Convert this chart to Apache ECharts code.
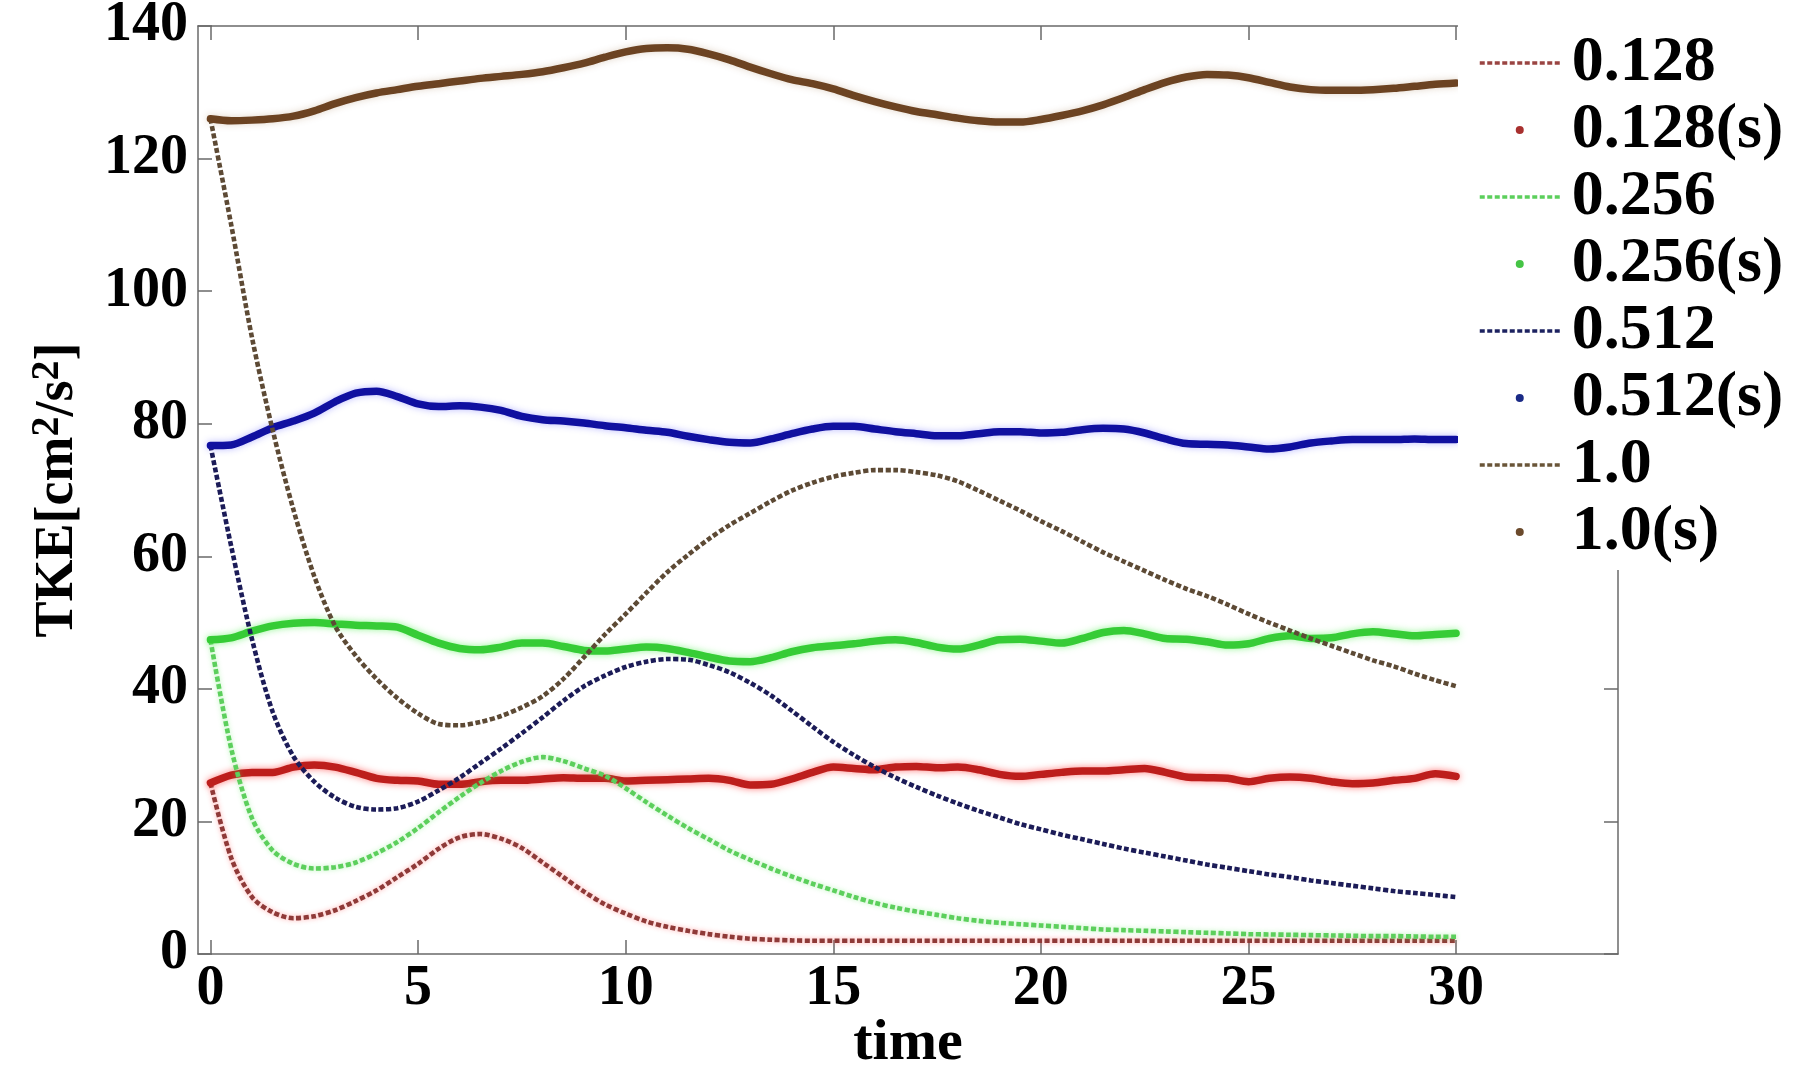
<!DOCTYPE html>
<html>
<head>
<meta charset="utf-8">
<title>TKE vs time</title>
<script src="https://cdn.jsdelivr.net/npm/echarts@6/dist/echarts.min.js"></script>
<style>
  html, body { margin: 0; padding: 0; background: #fff; overflow: hidden; }
  #chart { width: 1798px; height: 1066px; }
</style>
</head>
<body>
<div id="chart"></div>
<script>
// Sampling times shared by every curve
const time = [0,0.5,1,1.5,2,2.5,3,3.5,4,4.5,5,5.5,6,6.5,7,7.5,8,8.5,9,9.5,
  10,10.5,11,11.5,12,12.5,13,13.5,14,14.5,15,15.5,16,16.5,17,17.5,18,18.5,19,19.5,
  20,20.5,21,21.5,22,22.5,23,23.5,24,24.5,25,25.5,26,26.5,27,27.5,28,28.5,29,29.5,30];

// Decaying runs (dotted)
const tke0128 = [25.8,14.5,8.6,6.3,5.4,5.7,6.6,8.0,9.6,11.6,
  13.6,15.9,17.6,18.1,17.4,16.0,13.8,11.6,9.4,7.5,
  6.1,4.9,4.1,3.5,3.0,2.6,2.3,2.15,2.05,2.0,
  2.0,2.0,2.0,2.0,2.0,2.0,2.0,2.0,2.0,2.0,
  2.0,2.0,2.0,2.0,2.0,2.0,2.0,2.0,2.0,2.0,
  2.0,2.0,2.0,2.0,2.0,2.0,2.0,2.0,2.0,2.0,2.0];
const tke0256 = [47.4,31.0,20.5,15.6,13.6,12.9,13.1,13.8,15.2,16.9,
  19.0,21.4,23.7,25.8,27.6,29.0,29.7,29.1,28.0,26.9,
  25.0,22.9,20.9,19.0,17.3,15.6,14.2,12.9,11.7,10.6,
  9.6,8.6,7.7,7.0,6.4,5.9,5.4,5.0,4.7,4.5,
  4.3,4.1,3.9,3.7,3.6,3.5,3.4,3.3,3.2,3.1,
  3.0,2.95,2.9,2.85,2.8,2.75,2.7,2.7,2.65,2.6,2.6];
const tke0512 = [76.7,61.5,47.5,36.5,29.8,26.0,23.6,22.2,21.8,22.0,
  23.0,24.7,26.6,28.8,31.0,33.3,35.7,38.2,40.4,42.0,
  43.3,44.1,44.5,44.4,43.6,42.5,40.9,39.0,36.7,34.3,
  32.0,30.0,28.2,26.6,25.2,23.9,22.7,21.6,20.6,19.6,
  18.8,18.0,17.3,16.6,15.9,15.3,14.7,14.1,13.5,13.0,
  12.5,12.0,11.6,11.1,10.7,10.3,9.9,9.5,9.2,8.9,8.6];
const tke10 = [126.0,110.0,93.0,79.0,67.0,57.0,49.5,45.0,41.5,38.6,
  36.3,34.7,34.5,35.0,35.9,37.2,38.9,41.5,44.8,48.2,
  51.3,54.5,57.6,60.2,62.6,64.7,66.5,68.3,69.9,71.1,
  72.0,72.6,73.0,73.0,72.7,72.2,71.3,69.9,68.4,66.9,
  65.3,63.8,62.2,60.6,59.2,57.8,56.4,55.1,54.0,52.7,
  51.3,50.0,48.8,47.6,46.5,45.4,44.3,43.4,42.3,41.3,40.4];

// Forced runs, marked (s) (solid)
const tke0128s = [25.8,27.0,27.4,27.4,28.2,28.5,28.2,27.4,26.5,26.2,
  26.1,25.6,25.6,26.0,26.2,26.2,26.4,26.6,26.5,26.5,
  26.1,26.2,26.3,26.4,26.5,26.2,25.5,25.6,26.4,27.4,
  28.2,28.0,27.8,28.2,28.3,28.1,28.2,27.8,27.1,26.8,
  27.1,27.4,27.6,27.6,27.8,28.0,27.4,26.7,26.6,26.5,
  26.0,26.5,26.7,26.5,26.0,25.7,25.8,26.2,26.5,27.2,26.8];
const tke0256s = [47.4,47.7,48.7,49.5,49.9,50.0,49.8,49.6,49.5,49.3,
  48.1,46.9,46.1,45.9,46.3,46.9,46.9,46.4,45.8,45.7,
  46.0,46.3,46.1,45.5,44.8,44.2,44.1,44.7,45.6,46.2,
  46.5,46.8,47.2,47.4,47.0,46.3,46.0,46.6,47.4,47.5,
  47.2,46.9,47.6,48.5,48.8,48.3,47.6,47.5,47.1,46.6,
  46.8,47.6,48.0,47.6,47.7,48.3,48.6,48.3,48.0,48.2,48.4];
const tke0512s = [76.7,76.8,78.0,79.4,80.4,81.6,83.3,84.6,84.9,84.1,
  83.0,82.6,82.7,82.5,82.0,81.1,80.6,80.4,80.1,79.7,
  79.4,79.0,78.7,78.1,77.6,77.2,77.1,77.7,78.5,79.2,
  79.6,79.6,79.2,78.8,78.5,78.2,78.2,78.5,78.8,78.8,
  78.6,78.7,79.1,79.3,79.2,78.6,77.7,77.0,76.9,76.8,
  76.5,76.2,76.5,77.1,77.4,77.6,77.6,77.6,77.7,77.6,77.6];
const tke10s = [126.0,125.7,125.8,126.0,126.4,127.2,128.3,129.2,129.9,130.4,
  130.9,131.3,131.7,132.1,132.4,132.7,133.1,133.7,134.4,135.3,
  136.1,136.6,136.7,136.5,135.8,134.9,133.8,132.8,131.9,131.3,
  130.5,129.5,128.6,127.8,127.1,126.6,126.1,125.7,125.5,125.5,
  125.9,126.5,127.2,128.1,129.2,130.4,131.5,132.3,132.7,132.6,
  132.2,131.5,130.8,130.4,130.3,130.3,130.4,130.6,130.9,131.2,131.4];

const seriesNames = ['0.128','0.128(s)','0.256','0.256(s)','0.512','0.512(s)','1.0','1.0(s)'];
const xTicks = [0,5,10,15,20,25,30];

const FONT = "'Times New Roman','Liberation Serif',serif";
const AXIS_COLOR = '#6a6a6a';
const DASH = [5, 2.5];

function pairs(values) {
  return time.map((t, i) => [t, values[i]]);
}

function dotted(name, values, color, glow) {
  return {
    type: 'line', name, data: pairs(values),
    symbol: 'none', showSymbol: false, smooth: 0.3, z: 3,
    itemStyle: { color },
    lineStyle: { color, width: 4.6, type: DASH, shadowBlur: glow ? 5 : 0, shadowColor: glow || 'transparent' }
  };
}

function solid(name, values, color, glow) {
  return {
    type: 'line', name, data: pairs(values),
    symbol: 'none', showSymbol: false, smooth: 0.3, z: 3,
    itemStyle: { color },
    lineStyle: { color, width: 7.5, cap: 'round', join: 'round', shadowBlur: 7, shadowColor: glow }
  };
}

const series = [
  dotted('0.128', tke0128, '#8f3a38', 'rgba(255,60,60,0.45)'),
  solid('0.128(s)', tke0128s, '#bd1e1c', 'rgba(255,40,40,0.6)'),
  dotted('0.256', tke0256, '#5ccf5c', 'rgba(90,230,90,0.45)'),
  solid('0.256(s)', tke0256s, '#36cc36', 'rgba(80,240,80,0.6)'),
  dotted('0.512', tke0512, '#1c1c58', null),
  solid('0.512(s)', tke0512s, '#1010a0', 'rgba(60,60,255,0.35)'),
  dotted('1.0', tke10, '#5d4a35', null),
  solid('1.0(s)', tke10s, '#6c4322', 'rgba(140,90,40,0.25)')
];

// Legend keys: dashed strokes for the decaying runs, small dots for the (s) runs
const hiddenDot = { color: 'rgba(0,0,0,0)', borderColor: 'rgba(0,0,0,0)', borderWidth: 0 };
const legendStyle = {
  '0.128':    { lineStyle: { color: '#9a4442', width: 3.5, type: DASH }, itemStyle: hiddenDot },
  '0.128(s)': { icon: 'circle', itemStyle: { color: '#a8302e' } },
  '0.256':    { lineStyle: { color: '#5ccf5c', width: 3.5, type: DASH }, itemStyle: hiddenDot },
  '0.256(s)': { icon: 'circle', itemStyle: { color: '#45c445' } },
  '0.512':    { lineStyle: { color: '#1c2260', width: 3.5, type: DASH }, itemStyle: hiddenDot },
  '0.512(s)': { icon: 'circle', itemStyle: { color: '#1a2a86' } },
  '1.0':      { lineStyle: { color: '#6a5538', width: 3.5, type: DASH }, itemStyle: hiddenDot },
  '1.0(s)':   { icon: 'circle', itemStyle: { color: '#6b4a2c' } }
};

const labelText = { fontFamily: FONT, fontWeight: 'bold', color: '#000' };
const frameLine = { show: true, onZero: false, lineStyle: { color: AXIS_COLOR, width: 1.5 } };

const chart = echarts.init(document.getElementById('chart'), null, { renderer: 'canvas' });
chart.setOption({
  animation: false,
  backgroundColor: '#fff',
  grid: { left: 198, top: 26, width: 1420, height: 928, containLabel: false, outerBoundsMode: 'none' },
  xAxis: [
    {
      type: 'value', position: 'bottom', min: -0.3, max: 33.9,
      name: 'time', nameLocation: 'middle', nameGap: 61, nameMoveOverlap: false,
      nameTextStyle: Object.assign({ fontSize: 58 }, labelText),
      axisLine: frameLine,
      axisTick: { show: true, inside: true, length: 14, customValues: xTicks, lineStyle: { color: AXIS_COLOR, width: 1.5 } },
      axisLabel: Object.assign({ fontSize: 56, margin: 8, customValues: xTicks }, labelText),
      splitLine: { show: false }
    },
    {
      type: 'value', position: 'top', min: -0.3, max: 33.9,
      axisLine: frameLine,
      axisTick: { show: true, inside: true, length: 14, customValues: xTicks, lineStyle: { color: AXIS_COLOR, width: 1.5 } },
      axisLabel: { show: false },
      splitLine: { show: false }
    }
  ],
  yAxis: [
    {
      type: 'value', position: 'left', min: 0, max: 140, interval: 20,
      name: '{m|TKE[cm}{sup|2}{m|/s}{sup|2}{m|]}',
      nameLocation: 'middle', nameGap: 110, nameMoveOverlap: false,
      nameTextStyle: {
        rich: {
          m: { fontFamily: FONT, fontWeight: 'bold', fontSize: 54, color: '#000', lineHeight: 60 },
          sup: { fontFamily: FONT, fontWeight: 'bold', fontSize: 40, color: '#000', verticalAlign: 'top', lineHeight: 34 }
        }
      },
      axisLine: frameLine,
      axisTick: { show: true, inside: true, length: 14, lineStyle: { color: AXIS_COLOR, width: 1.5 } },
      axisLabel: Object.assign({ fontSize: 56, margin: 10 }, labelText),
      splitLine: { show: false }
    },
    {
      type: 'value', position: 'right', min: 0, max: 140, interval: 20,
      axisLine: frameLine,
      axisTick: { show: true, inside: true, length: 14, lineStyle: { color: AXIS_COLOR, width: 1.5 } },
      axisLabel: { show: false },
      splitLine: { show: false }
    }
  ],
  legend: {
    orient: 'vertical',
    left: 1458, top: 23,
    padding: [8, 20, 6, 20],
    backgroundColor: '#fff',
    itemWidth: 80, itemHeight: 8, itemGap: 3,
    selectedMode: false,
    textStyle: { fontFamily: FONT, fontWeight: 'bold', fontSize: 64, color: '#000', lineHeight: 62, padding: [0, 0, 0, 7] },
    data: seriesNames.map(n => Object.assign({ name: n }, legendStyle[n]))
  },
  series
});
</script>
</body>
</html>
